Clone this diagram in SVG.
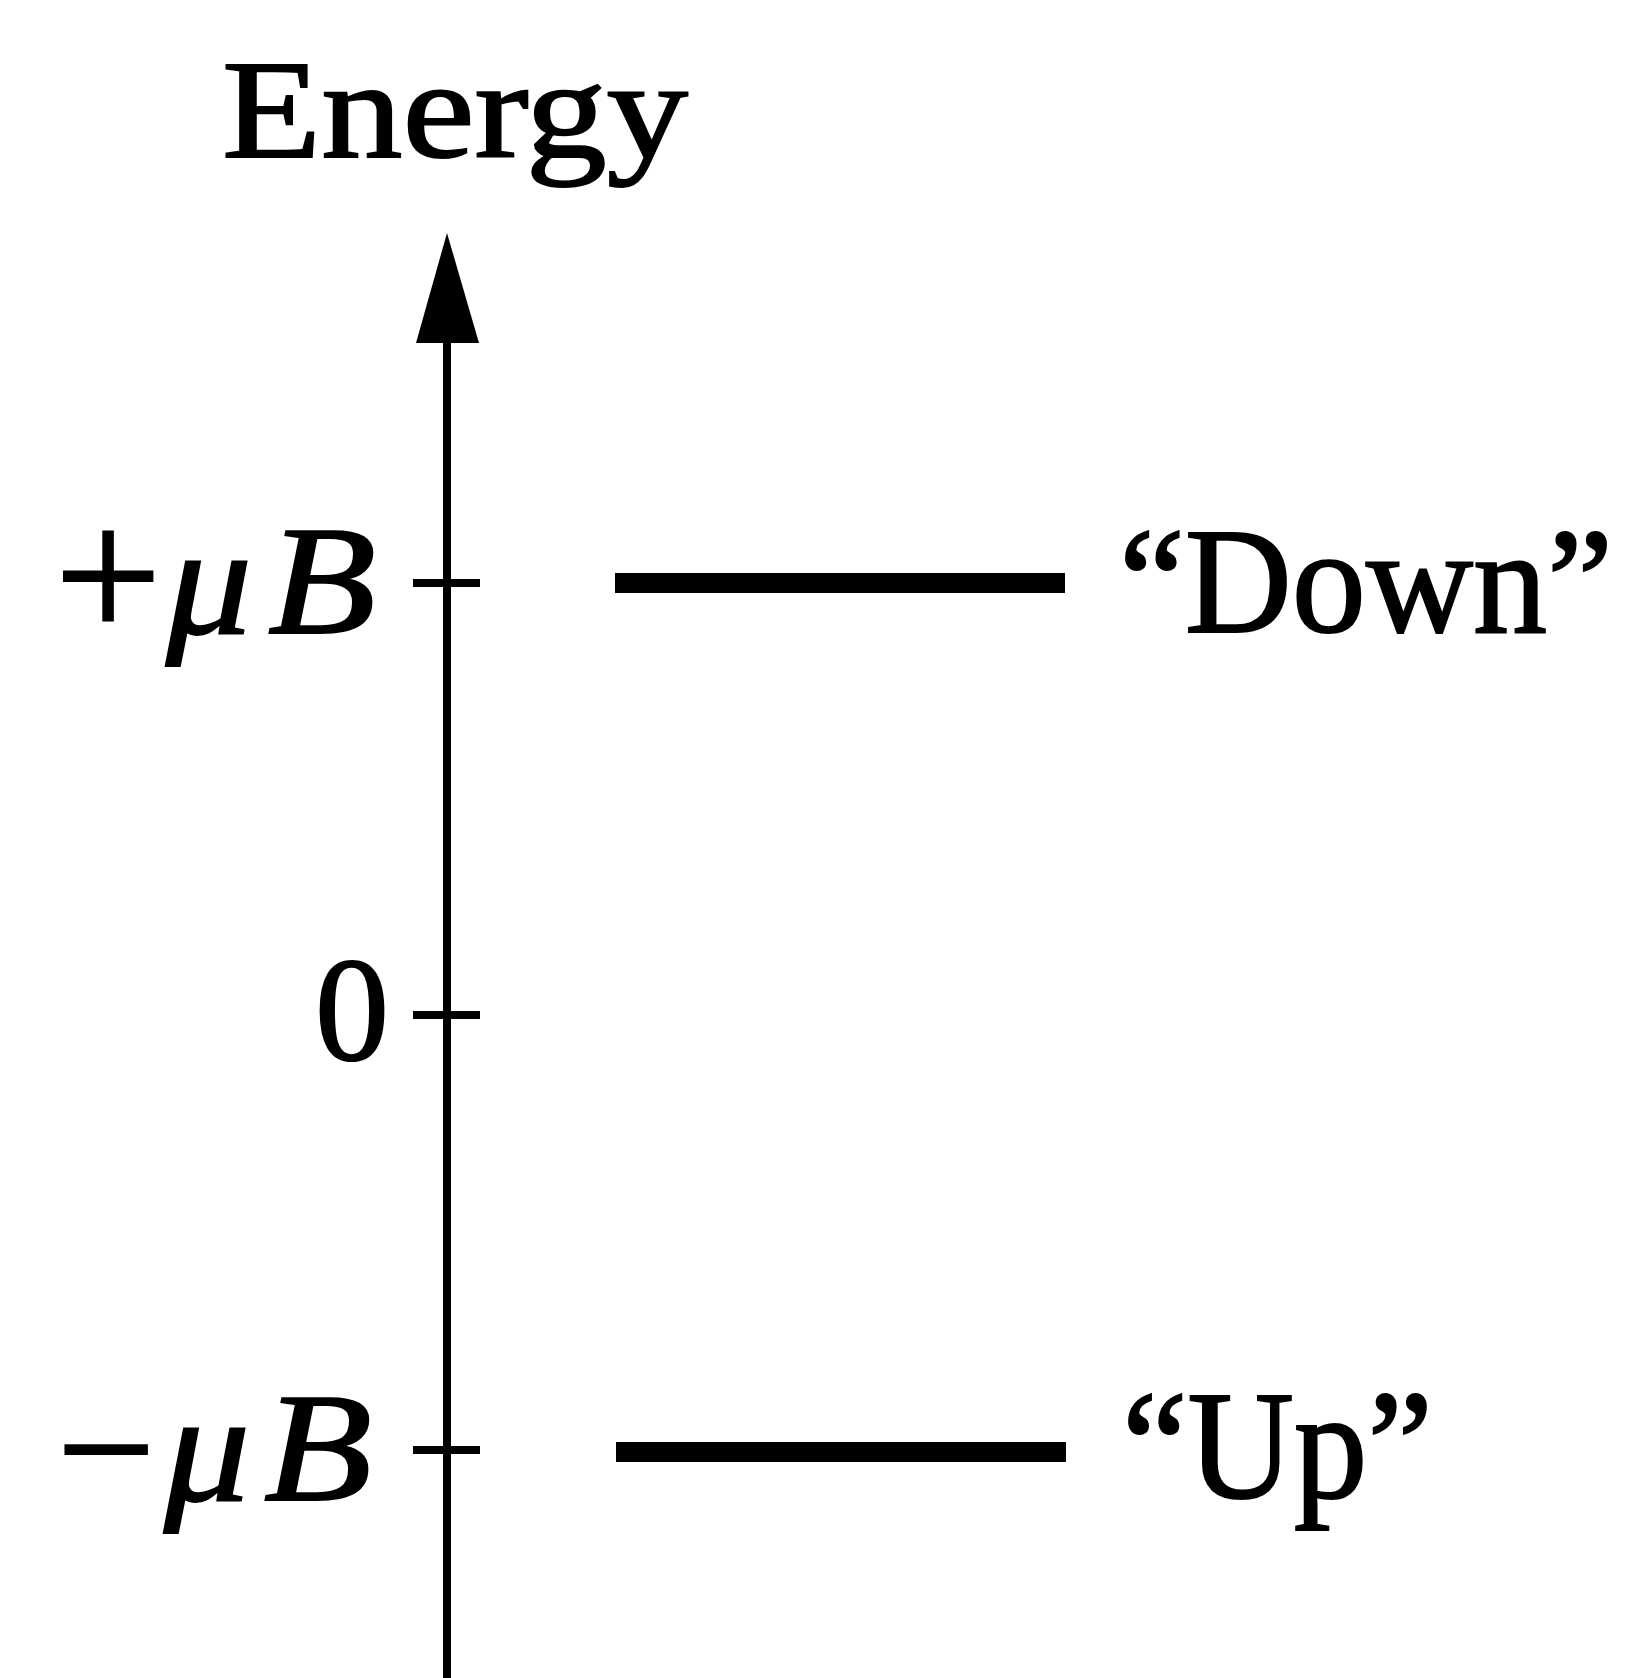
<svg xmlns="http://www.w3.org/2000/svg" width="1625" height="1678" viewBox="0 0 1625 1678">
<style>
  text { font-family: "Liberation Serif", "Times New Roman", serif; fill: #000; stroke: #000; stroke-width: 2; }
  .lbl { font-size: 155px; }
  .it { font-style: italic; }
  .axis { stroke: #000; stroke-width: 8; fill: none; }
  .level { stroke: #000; stroke-width: 20; stroke-linecap: butt; }
</style>
<rect width="1625" height="1678" fill="#fff"/>
<g id="title">
  <text x="222" y="157" font-size="139" textLength="466" lengthAdjust="spacingAndGlyphs">Energy</text>
</g>
<g id="connectors">
  <line class="axis" x1="447" y1="340" x2="447" y2="1678"/>
  <polygon points="447,233 479,343 416,343" fill="#000"/>
  <line class="axis" x1="413" y1="583" x2="480" y2="583"/>
  <line class="axis" x1="413" y1="1015" x2="480" y2="1015"/>
  <line class="axis" x1="413" y1="1450" x2="480" y2="1450"/>
</g>
<g id="tick-plus">
  <text x="108" y="640" font-size="190" text-anchor="middle">+</text>
  <text class="lbl it" x="166" y="633" textLength="86" lengthAdjust="spacingAndGlyphs">μ</text>
  <text class="lbl it" x="268" y="633" textLength="108" lengthAdjust="spacingAndGlyphs">B</text>
</g>
<g id="tick-zero">
  <text x="352" y="1060" font-size="148" text-anchor="middle">0</text>
</g>
<g id="tick-minus">
  <text x="106" y="1508" font-size="175" text-anchor="middle">−</text>
  <text class="lbl it" x="164" y="1500" textLength="86" lengthAdjust="spacingAndGlyphs">μ</text>
  <text class="lbl it" x="264" y="1500" textLength="108" lengthAdjust="spacingAndGlyphs">B</text>
</g>
<g id="level-down">
  <line class="level" x1="615" y1="583" x2="1065" y2="583"/>
  <text x="1119" y="632" font-size="150" textLength="494" lengthAdjust="spacingAndGlyphs">“Down”</text>
</g>
<g id="level-up">
  <line class="level" x1="616" y1="1452" x2="1066" y2="1452"/>
  <text class="lbl" x="1122" y="1497" textLength="311" lengthAdjust="spacingAndGlyphs">“Up”</text>
</g>
</svg>
